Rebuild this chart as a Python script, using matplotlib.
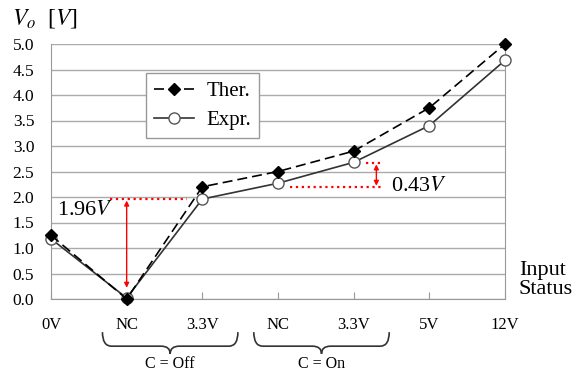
import matplotlib
matplotlib.use("Agg")
import matplotlib.pyplot as plt
from matplotlib.path import Path
from matplotlib.patches import PathPatch
import matplotlib.transforms as mtransforms
import numpy as np

plt.rcParams['font.family'] = ['Liberation Serif', 'DejaVu Serif']
plt.rcParams['mathtext.fontset'] = 'stix'

# data
categories = ["0V", "NC", "3.3V", "NC", "3.3V", "5V", "12V"]
ther = [1.25, 0.0, 2.20, 2.50, 2.90, 3.75, 5.00]
expr = [1.18, 0.02, 1.96, 2.27, 2.68, 3.40, 4.68]
groups = [("C = Off", 1, 2), ("C = On", 3, 4)]

x = np.arange(len(categories))

fig = plt.figure(figsize=(5.78, 3.74), dpi=100)
ax = fig.add_axes([51 / 578, 75 / 374, 454 / 578, 255 / 374])

ax.plot(x, ther, color='black', linestyle=(0, (6, 3)), linewidth=1.2,
        marker='D', markersize=6.5, markerfacecolor='black', markeredgecolor='black',
        clip_on=False, zorder=4, label='Ther.')
ax.plot(x, expr, color='#333333', linestyle='-', linewidth=1.2,
        marker='o', markersize=8, markerfacecolor='white', markeredgecolor='#555555',
        clip_on=False, zorder=3, label='Expr.')

ax.set_xlim(0, len(categories) - 1)
ax.set_ylim(0, 5)
ax.set_yticks(np.arange(0, 5.01, 0.5))
ax.set_yticklabels([f"{v:.1f}" for v in np.arange(0, 5.01, 0.5)])
ax.set_xticks(x)
ax.set_xticklabels(categories)
ax.tick_params(axis='x', direction='in', length=5, color='#999999', pad=13, labelsize=12)
ax.tick_params(axis='y', length=0, pad=12, labelsize=12.5)
ax.grid(axis='y', color='#aaaaaa', linewidth=1)
ax.set_axisbelow(True)
for side in ['left', 'bottom', 'right']:
    ax.spines[side].set_color('#999999')
ax.spines['top'].set_visible(False)

# red annotations
red = '#ff0000'
ax.plot([0.78, 1.8], [1.96, 1.96], color=red, linestyle=':', linewidth=1.6, zorder=2)
ax.annotate('', xy=(1, 0.22), xytext=(1, 1.93),
            arrowprops=dict(arrowstyle='<|-|>', color=red, lw=1, mutation_scale=7,
                            shrinkA=0, shrinkB=0))
ax.text(0.08, 1.73, '1.96$V$', fontsize=16, ha='left', va='center')

ax.plot([3.16, 4.38], [2.2, 2.2], color=red, linestyle=':', linewidth=1.6, zorder=2)
ax.plot([4.16, 4.38], [2.66, 2.66], color=red, linestyle=':', linewidth=1.6, zorder=2)
ax.annotate('', xy=(4.3, 2.22), xytext=(4.3, 2.64),
            arrowprops=dict(arrowstyle='<|-|>', color=red, lw=1, mutation_scale=7,
                            shrinkA=0, shrinkB=0))
ax.text(4.49, 2.2, '0.43$V$', fontsize=16, ha='left', va='center')

# curly braces under grouped categories
trans = mtransforms.blended_transform_factory(ax.transData, ax.transAxes)


def brace(x0, x1, ytop, ymid, ytip):
    xm = (x0 + x1) / 2
    r = 0.12
    verts = [(x0, ytop), (x0, ymid), (x0 + r, ymid),
             (xm - r, ymid), (xm, ymid), (xm, ytip),
             (xm, ymid), (xm + r, ymid),
             (x1 - r, ymid), (x1, ymid), (x1, ytop)]
    codes = [Path.MOVETO, Path.CURVE3, Path.CURVE3,
             Path.LINETO, Path.CURVE3, Path.CURVE3,
             Path.CURVE3, Path.CURVE3,
             Path.LINETO, Path.CURVE3, Path.CURVE3]
    return Path(verts, codes)


for name, i, j in groups:
    p = brace(i - 0.32, j + 0.47, -0.13, -0.185, -0.215)
    ax.add_patch(PathPatch(p, transform=trans, facecolor='none', edgecolor='#333333',
                           linewidth=1.2, clip_on=False))
    ax.text((i - 0.32 + j + 0.47) / 2, -0.255, name, transform=trans,
            ha='center', va='center', fontsize=11.5)

leg = ax.legend(loc='upper left', bbox_to_anchor=(0.209, 0.886), borderaxespad=0,
                fancybox=False, edgecolor='#999999', framealpha=1, fontsize=15,
                handlelength=1.9, handletextpad=0.6, labelspacing=0.45,
                borderpad=0.4)
leg.get_frame().set_linewidth(1)

fig.text(12 / 578, 1 - 18 / 374, '$V_o$  [$V$]', fontsize=17, ha='left', va='center')
fig.text(519 / 578, 1 - 280 / 374, 'Input\nStatus', fontsize=16, ha='left',
         va='center', linespacing=1.0)

fig.savefig('out.png', dpi=100)
